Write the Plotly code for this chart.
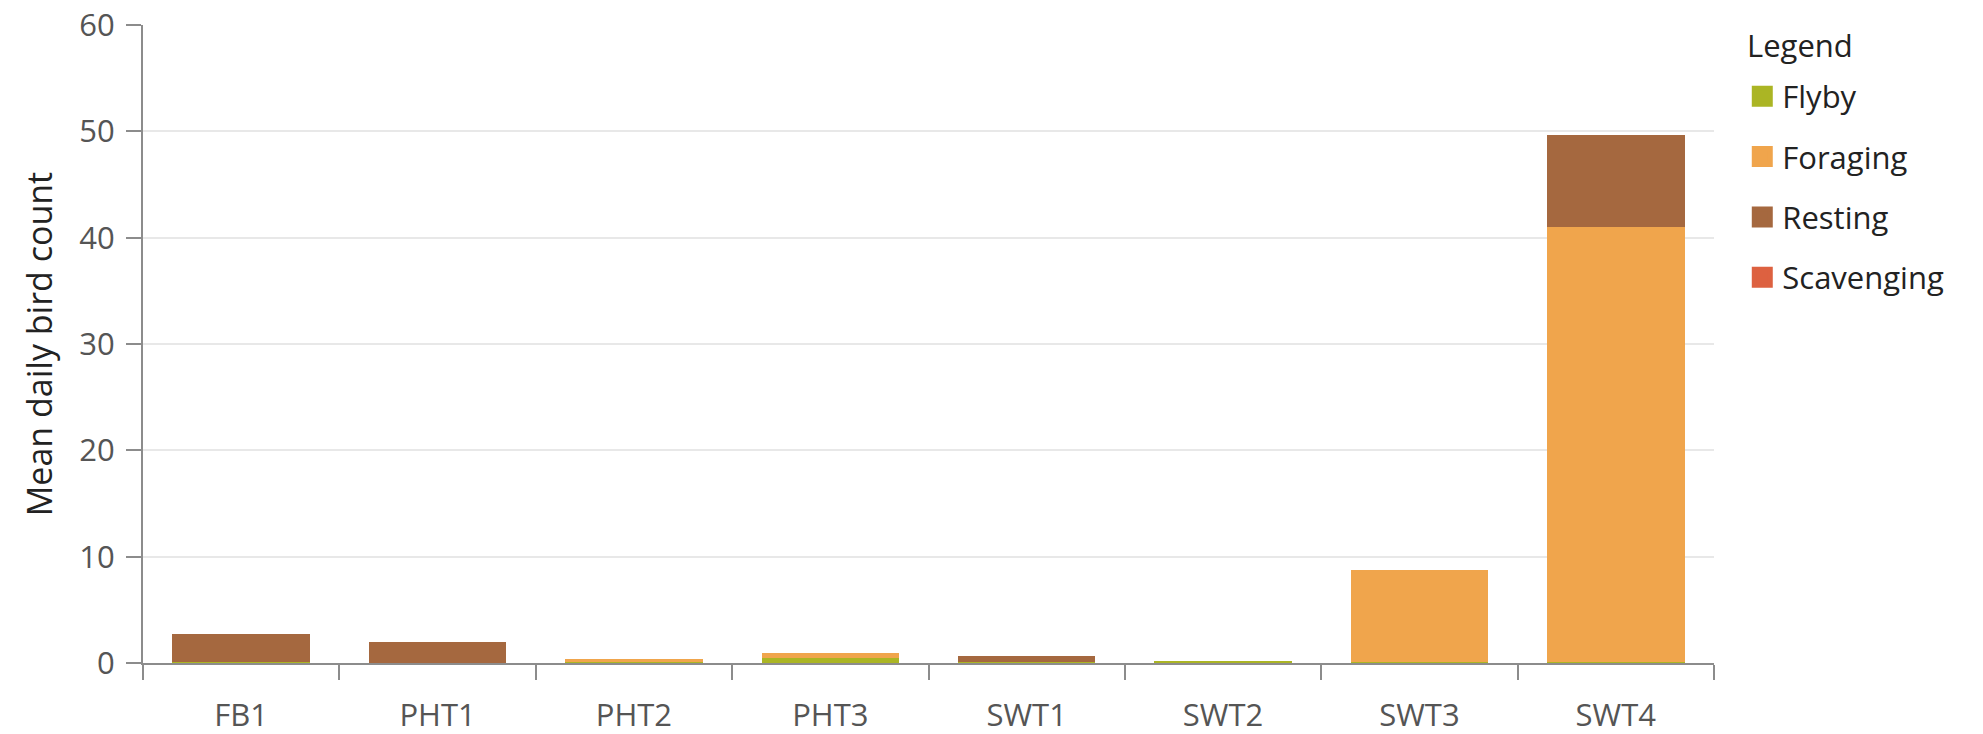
import plotly.graph_objects as go

categories = ["FB1", "PHT1", "PHT2", "PHT3", "SWT1", "SWT2", "SWT3", "SWT4"]
flyby = [0.05, 0.0, 0.1, 0.45, 0.07, 0.12, 0.1, 0.1]
foraging = [0.0, 0.0, 0.29, 0.46, 0.0, 0.0, 8.6, 40.9]
resting = [2.65, 1.95, 0.0, 0.0, 0.55, 0.0, 0.0, 8.7]
scavenging = [0.0, 0.0, 0.0, 0.0, 0.0, 0.0, 0.0, 0.0]

series = [
    ("Flyby", flyby, "#abb524"),
    ("Foraging", foraging, "#f0a54c"),
    ("Resting", resting, "#a5683f"),
    ("Scavenging", scavenging, "#dd6140"),
]

FONT = "Open Sans"

fig = go.Figure()
for name, vals, col in series:
    fig.add_trace(go.Bar(
        name=name, x=categories, y=vals,
        marker=dict(color=col, line=dict(width=0)),
        legendgroup=name, showlegend=False,
    ))
# legend entries (square swatches)
for name, vals, col in series:
    fig.add_trace(go.Scatter(
        name=name, x=[None], y=[None], mode="markers",
        marker=dict(symbol="square", size=16, color=col, line=dict(color=col, width=5)),
        legendgroup=name, showlegend=True, hoverinfo="skip",
    ))

fig.update_layout(
    width=1983, height=734,
    barmode="stack", bargap=0.3,
    plot_bgcolor="white", paper_bgcolor="white",
    margin=dict(l=135, r=277, t=17, b=79),
    font=dict(family=FONT, size=31, color="#555555"),
    showlegend=True,
    legend=dict(
        font=dict(size=31, color="#222222"),
        x=1.018, xanchor="left", y=0.93, yanchor="top",
        traceorder="grouped", tracegroupgap=17,
        itemsizing="trace",
        bgcolor="rgba(0,0,0,0)",
    ),
    xaxis=dict(
        showline=True, linecolor="#8c8c8c", linewidth=2,
        ticks="outside", ticklen=15, tickwidth=2, tickcolor="#8c8c8c",
        tickson="boundaries", showgrid=False,
        tickfont=dict(size=31, color="#555555"),
        ticklabelstandoff=24,
        ticklabeloverflow="allow",
        automargin=False,
    ),
    yaxis=dict(
        range=[0, 60], dtick=10,
        showline=True, linecolor="#8c8c8c", linewidth=2,
        ticks="outside", ticklen=15, tickwidth=2, tickcolor="#8c8c8c",
        showgrid=True, gridcolor="#e8e8e8", gridwidth=1.5,
        zeroline=False,
        tickfont=dict(size=31, color="#555555"),
        ticklabelstandoff=5,
        ticklabeloverflow="allow",
        title=dict(text="Mean daily bird count", font=dict(size=34, color="#222222"), standoff=16),
        automargin=False,
    ),
    annotations=[dict(
        text="Legend", xref="paper", yref="paper", x=1.0197, y=0.969,
        xanchor="left", yanchor="middle", showarrow=False,
        font=dict(family=FONT, size=31, color="#222222"),
    )],
)

fig.write_html("out.html")
